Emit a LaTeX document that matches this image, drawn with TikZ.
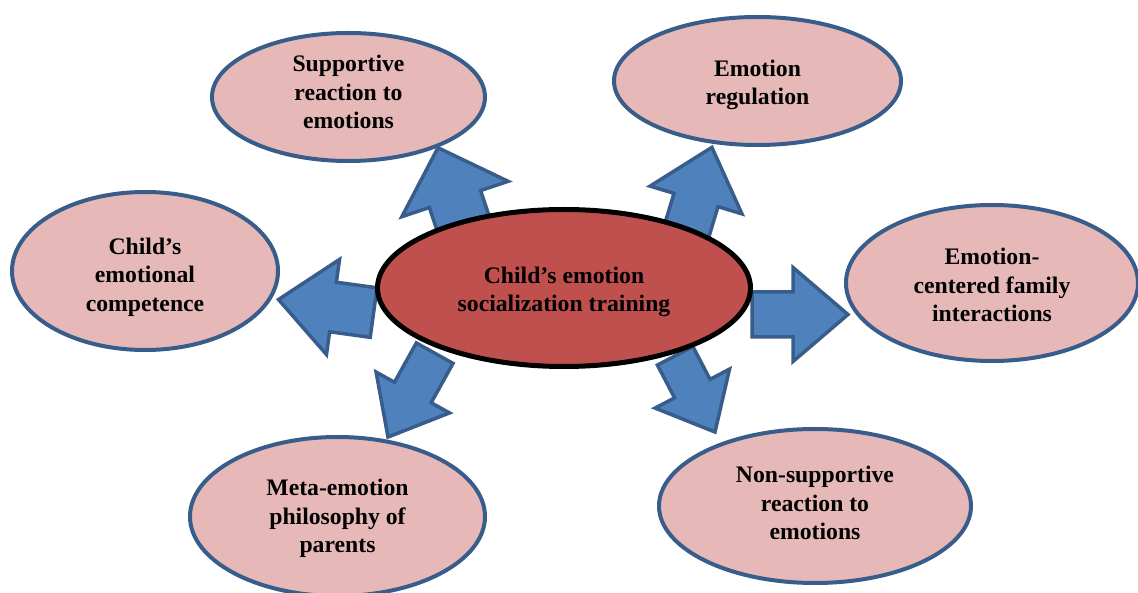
\documentclass[tikz,border=0pt]{standalone}
\usepackage{fontspec}
\setmainfont{Liberation Serif}
\usetikzlibrary{shapes.geometric}

\definecolor{pinkfill}{HTML}{E6B9B8}
\definecolor{bordblue}{HTML}{385D8A}
\definecolor{arrowblue}{HTML}{4F81BD}
\definecolor{hubred}{HTML}{C0504D}

\tikzset{
  outer/.style={ellipse, draw=bordblue, fill=pinkfill, line width=4pt, inner sep=0pt},
  hub/.style={ellipse, draw=black, fill=hubred, line width=5pt, inner sep=0pt},
  lbl/.style={align=center, inner sep=0pt, font=\bfseries\fontsize{23.7}{28.5}\selectfont},
  blockarrow/.style={draw=bordblue, fill=arrowblue, line width=3.5pt, line join=miter}
}

\begin{document}
\begin{tikzpicture}[x=1pt, y=-1pt]
  \clip (0,0) rectangle (1138,593);

  % outer topics
  \node[outer, minimum width=273, minimum height=128] (supp) at (348.5,97) {};
  \node[outer, minimum width=287, minimum height=128] (regul) at (757.5,81) {};
  \node[outer, minimum width=266, minimum height=158] (compet) at (145,271) {};
  \node[outer, minimum width=292, minimum height=156] (family) at (992,283) {};
  \node[outer, minimum width=295, minimum height=159] (meta) at (337.5,516.5) {};
  \node[outer, minimum width=312, minimum height=154] (nonsupp) at (815,506) {};

  \node[lbl] (supptxt) at (348.5,92) {Supportive\\reaction to\\emotions};
  \node[lbl] (regultxt) at (757.5,85) {Emotion\\regulation};
  \node[lbl] (compettxt) at (145,277) {Child’s\\emotional\\competence};
  \node[lbl] (familytxt) at (992,285) {Emotion-\\centered family\\interactions};
  \node[lbl] (metatxt) at (337.5,518.5) {Meta-emotion\\philosophy of\\parents};
  \node[lbl] (nonsupptxt) at (815,503) {Non-supportive\\reaction to\\emotions};

  % block arrows (tails hidden under the hub)
  \draw[blockarrow, shift={(455,199)}, rotate=108.4] (-70,-27) -- (0,-27) -- (0,-56) -- (54,0) -- (0,56) -- (0,27) -- (-70,27) -- cycle;
  \draw[blockarrow, shift={(696,200)}, rotate=73.2] (-70,-23) -- (0,-23) -- (0,-48) -- (55,0) -- (0,48) -- (0,23) -- (-70,23) -- cycle;
  \draw[blockarrow, shift={(333,307)}, rotate=172.2] (-41,-25) -- (0,-25) -- (0,-48) -- (55,0) -- (0,48) -- (0,25) -- (-41,25) -- cycle;
  \draw[blockarrow, shift={(793,314.5)}, rotate=0] (-41,-22.5) -- (0,-22.5) -- (0,-47) -- (55,0) -- (0,47) -- (0,22.5) -- (-41,22.5) -- cycle;
  \draw[blockarrow, shift={(412.8,392.5)}, rotate=240.9] (-45,-21) -- (0,-21) -- (0,-42) -- (51,0) -- (0,42) -- (0,21) -- (-45,21) -- cycle;
  \draw[blockarrow, shift={(692.3,388.6)}, rotate=297.6] (-37,-20) -- (0,-20) -- (0,-42) -- (49,0) -- (0,42) -- (0,20) -- (-37,20) -- cycle;

  % centre
  \node[hub, minimum width=373, minimum height=157] (train) at (564,288) {};
  \node[lbl] (traintxt) at (564,292) {Child’s emotion\\socialization training};
\end{tikzpicture}
\end{document}
